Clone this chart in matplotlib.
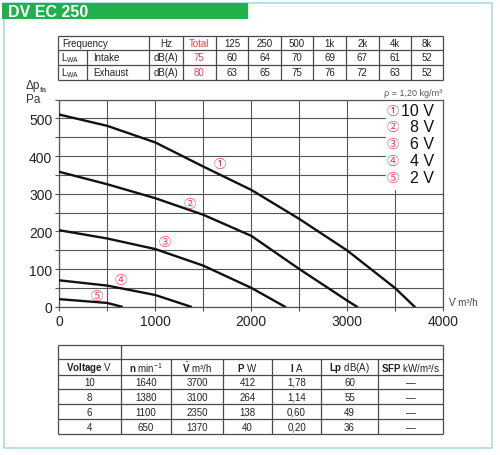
import matplotlib
matplotlib.use("Agg")
import matplotlib.pyplot as plt
from matplotlib import font_manager
from matplotlib.patches import Rectangle

# Fan curves DV EC 250: airflow (m3/h) vs static pressure (Pa)
FLOW_10V = [0, 500, 1000, 1500, 2000, 2500, 3000, 3500, 3700]
PRES_10V = [510, 480, 436, 372, 310, 233, 149, 49, 0]
FLOW_8V = [0, 500, 1000, 1500, 2000, 2500, 3000, 3100]
PRES_8V = [358, 325, 288, 244, 188, 100, 16, 0]
FLOW_6V = [0, 500, 1000, 1500, 2000, 2350]
PRES_6V = [203, 181, 153, 109, 50, 0]
FLOW_4V = [0, 500, 1000, 1370]
PRES_4V = [70, 56, 31, 0]
FLOW_2V = [0, 500, 650]
PRES_2V = [20, 10, 0]
CURVE_MARKS = ["\u2460", "\u2461", "\u2462", "\u2463", "\u2464"]
CURVE_LABELS = ["10 V", "8 V", "6 V", "4 V", "2 V"]

# Sound power table
FREQS = ["Total", "125", "250", "500", "1k", "2k", "4k", "8k"]
INTAKE = [75, 60, 64, 70, 69, 67, 61, 52]
EXHAUST = [80, 63, 65, 75, 76, 72, 63, 52]

# Performance table
VOLTAGE = [10, 8, 6, 4]
SPEED = [1640, 1380, 1100, 650]
AIRFLOW = [3700, 3100, 2350, 1370]
POWER = [412, 264, 138, 40]
CURRENT = ["1,78", "1,14", "0,60", "0,20"]
LP = [60, 55, 49, 36]
SFP = ["\u2014", "\u2014", "\u2014", "\u2014"]

names = {f.name for f in font_manager.fontManager.ttflist}
if "Liberation Sans Narrow" in names:
    NARROW = "Liberation Sans Narrow"
    TS = 8
else:
    NARROW = "Liberation Sans"
    TS = 7
SANS = "Liberation Sans" if "Liberation Sans" in names else "DejaVu Sans"
plt.rcParams["font.family"] = [SANS, "DejaVu Sans"]
plt.rcParams["mathtext.fontset"] = "custom"
plt.rcParams["mathtext.rm"] = NARROW
plt.rcParams["mathtext.bf"] = NARROW + ":bold"
plt.rcParams["mathtext.it"] = NARROW + ":italic"

RED = "#e8404f"
LINE = "#4a4a4a"
W, H = 500, 456

fig = plt.figure(figsize=(5, 4.56), dpi=100)

# overlay in pixel coords for frame and tables
ov = fig.add_axes([0, 0, 1, 1])
ov.set_xlim(0, W)
ov.set_ylim(H, 0)
ov.axis("off")

ov.add_patch(Rectangle((4, 4), 488, 445, fill=False, ec="#a9dbe6", lw=1.2))
ov.add_patch(Rectangle((2, 4), 246, 16, color="#22b04b", lw=0))
ov.text(8, 12.5, "DV EC 250", color="white", fontsize=11.5, fontweight="bold",
        va="center", ha="left", family=SANS)


def hline(y, x0, x1):
    ov.plot([x0, x1], [y, y], color=LINE, lw=0.9, solid_capstyle="butt")


def vline(x, y0, y1):
    ov.plot([x, x], [y0, y1], color=LINE, lw=0.9, solid_capstyle="butt")


def cell(x, y, s, color="#222222", ha="center"):
    ov.text(x, y, s, fontsize=TS, family=NARROW, color=color, ha=ha, va="center")


# top table
tx = [58.3, 149.3, 182.7, 216, 248.3, 280.7, 313.3, 346, 378.7, 411, 443.3]
ty = [36.7, 51, 65.7, 81]
for y in ty:
    hline(y, tx[0], tx[-1])
for x in tx:
    vline(x, ty[0], ty[-1])
vline(87.3, ty[1], ty[-1])
cell(62, (ty[0] + ty[1]) / 2, "Frequency", ha="left")
cell((tx[1] + tx[2]) / 2, (ty[0] + ty[1]) / 2, "Hz")
for i, f in enumerate(FREQS):
    xc = (tx[i + 2] + tx[i + 3]) / 2
    col = RED if i == 0 else "#222222"
    cell(xc, (ty[0] + ty[1]) / 2, f, color=col)
    cell(xc, (ty[1] + ty[2]) / 2, str(INTAKE[i]), color=col)
    cell(xc, (ty[2] + ty[3]) / 2, str(EXHAUST[i]), color=col)
for r, name in ((1, "Intake"), (2, "Exhaust")):
    yc = (ty[r] + ty[r + 1]) / 2
    cell(61, yc, r"L$_{\mathrm{WA}}$", ha="left")
    cell(93, yc, name, ha="left")
    cell((tx[1] + tx[2]) / 2, yc, "dB(A)")

# bottom table
bx = [58.3, 121, 171, 223, 272, 321, 378, 443.3]
by = [345.7, 360, 375.7, 390.3, 405.3, 420.3, 435.3]
for y in by:
    hline(y, bx[0], bx[-1])
vline(bx[0], by[0], by[-1])
vline(bx[-1], by[0], by[-1])
vline(bx[1], by[0], by[1])
for x in bx[1:-1]:
    vline(x, by[1], by[-1])
heads = [r"$\mathbf{Voltage}$ V", r"$\mathbf{n}$ min$^{-1}$", "$\\mathbf{\\dot{V}}$ m\u00b3/h",
         r"$\mathbf{P}$ W", r"$\mathbf{I}$ A", r"$\mathbf{Lp}$ dB(A)",
         "$\\mathbf{SFP}$ kW/m\u00b3/s"]
cols = [VOLTAGE, SPEED, AIRFLOW, POWER, CURRENT, LP, SFP]
for j in range(7):
    xc = (bx[j] + bx[j + 1]) / 2
    cell(xc, (by[1] + by[2]) / 2, heads[j])
    for i in range(4):
        cell(xc, (by[i + 2] + by[i + 3]) / 2, str(cols[j][i]))

# main chart
L, R, T, B = 59.3, 443.3, 100.5, 307.7
ax = fig.add_axes([L / W, 1 - B / H, (R - L) / W, (B - T) / H])
ax.set_xlim(0, 4000)
ax.set_ylim(0, 550)
ax.set_xticks(range(0, 4001, 500))
ax.set_yticks(range(0, 551, 50))
ax.set_xticklabels([str(v) if v % 1000 == 0 else "" for v in range(0, 4001, 500)])
ax.set_yticklabels([str(v) if v % 100 == 0 and v <= 500 else "" for v in range(0, 551, 50)])
ax.grid(True, color="#555555", lw=0.8)
ax.set_axisbelow(True)
for s in ax.spines.values():
    s.set_color("#555555")
    s.set_linewidth(0.9)
ax.tick_params(length=3, width=0.8, color="#555555", labelsize=10, labelcolor="#222222", pad=2)

flows = [FLOW_10V, FLOW_8V, FLOW_6V, FLOW_4V, FLOW_2V]
press = [PRES_10V, PRES_8V, PRES_6V, PRES_4V, PRES_2V]
for fx, py in zip(flows, press):
    ax.plot(fx, py, color="#111111", lw=1.7, zorder=3)

mark_pos = [(1675, 380), (1355, 275), (1095, 172), (645, 73), (395, 31)]
for m, (mx, my) in zip(CURVE_MARKS, mark_pos):
    ax.text(mx, my, m, color=RED, fontsize=9, ha="center", va="center",
            family=["Noto Sans CJK JP", "DejaVu Sans"], zorder=4)

# legend panel
ax.add_patch(Rectangle((3400, 312), 590, 238, color="white", zorder=2))
leg_y = [522, 478, 434, 389, 342]
for m, lab, ly in zip(CURVE_MARKS, CURVE_LABELS, leg_y):
    ax.text(3470, ly, m, color=RED, fontsize=9, ha="center", va="center",
            family=["Noto Sans CJK JP", "DejaVu Sans"], zorder=4)
    ax.text(3905, ly, lab, color="#111111", fontsize=11.5, ha="right", va="center", zorder=4)

ov.text(442, 93, "\u03c1 = 1,20 kg/m\u00b3", fontsize=6.5, color="#555555", ha="right", va="center")
ov.text(26, 86.5, "\u0394p", fontsize=8.5, color="#333333", ha="left", va="center")
ov.text(39.5, 90, "fa", fontsize=6, color="#333333", ha="left", va="center")
ov.text(26, 100, "Pa", fontsize=8.5, color="#333333", ha="left", va="center")
ov.text(449, 303, "V\u0307 m\u00b3/h", fontsize=7, color="#444444", ha="left", va="center")

fig.savefig("out.png", dpi=100, facecolor="white")
